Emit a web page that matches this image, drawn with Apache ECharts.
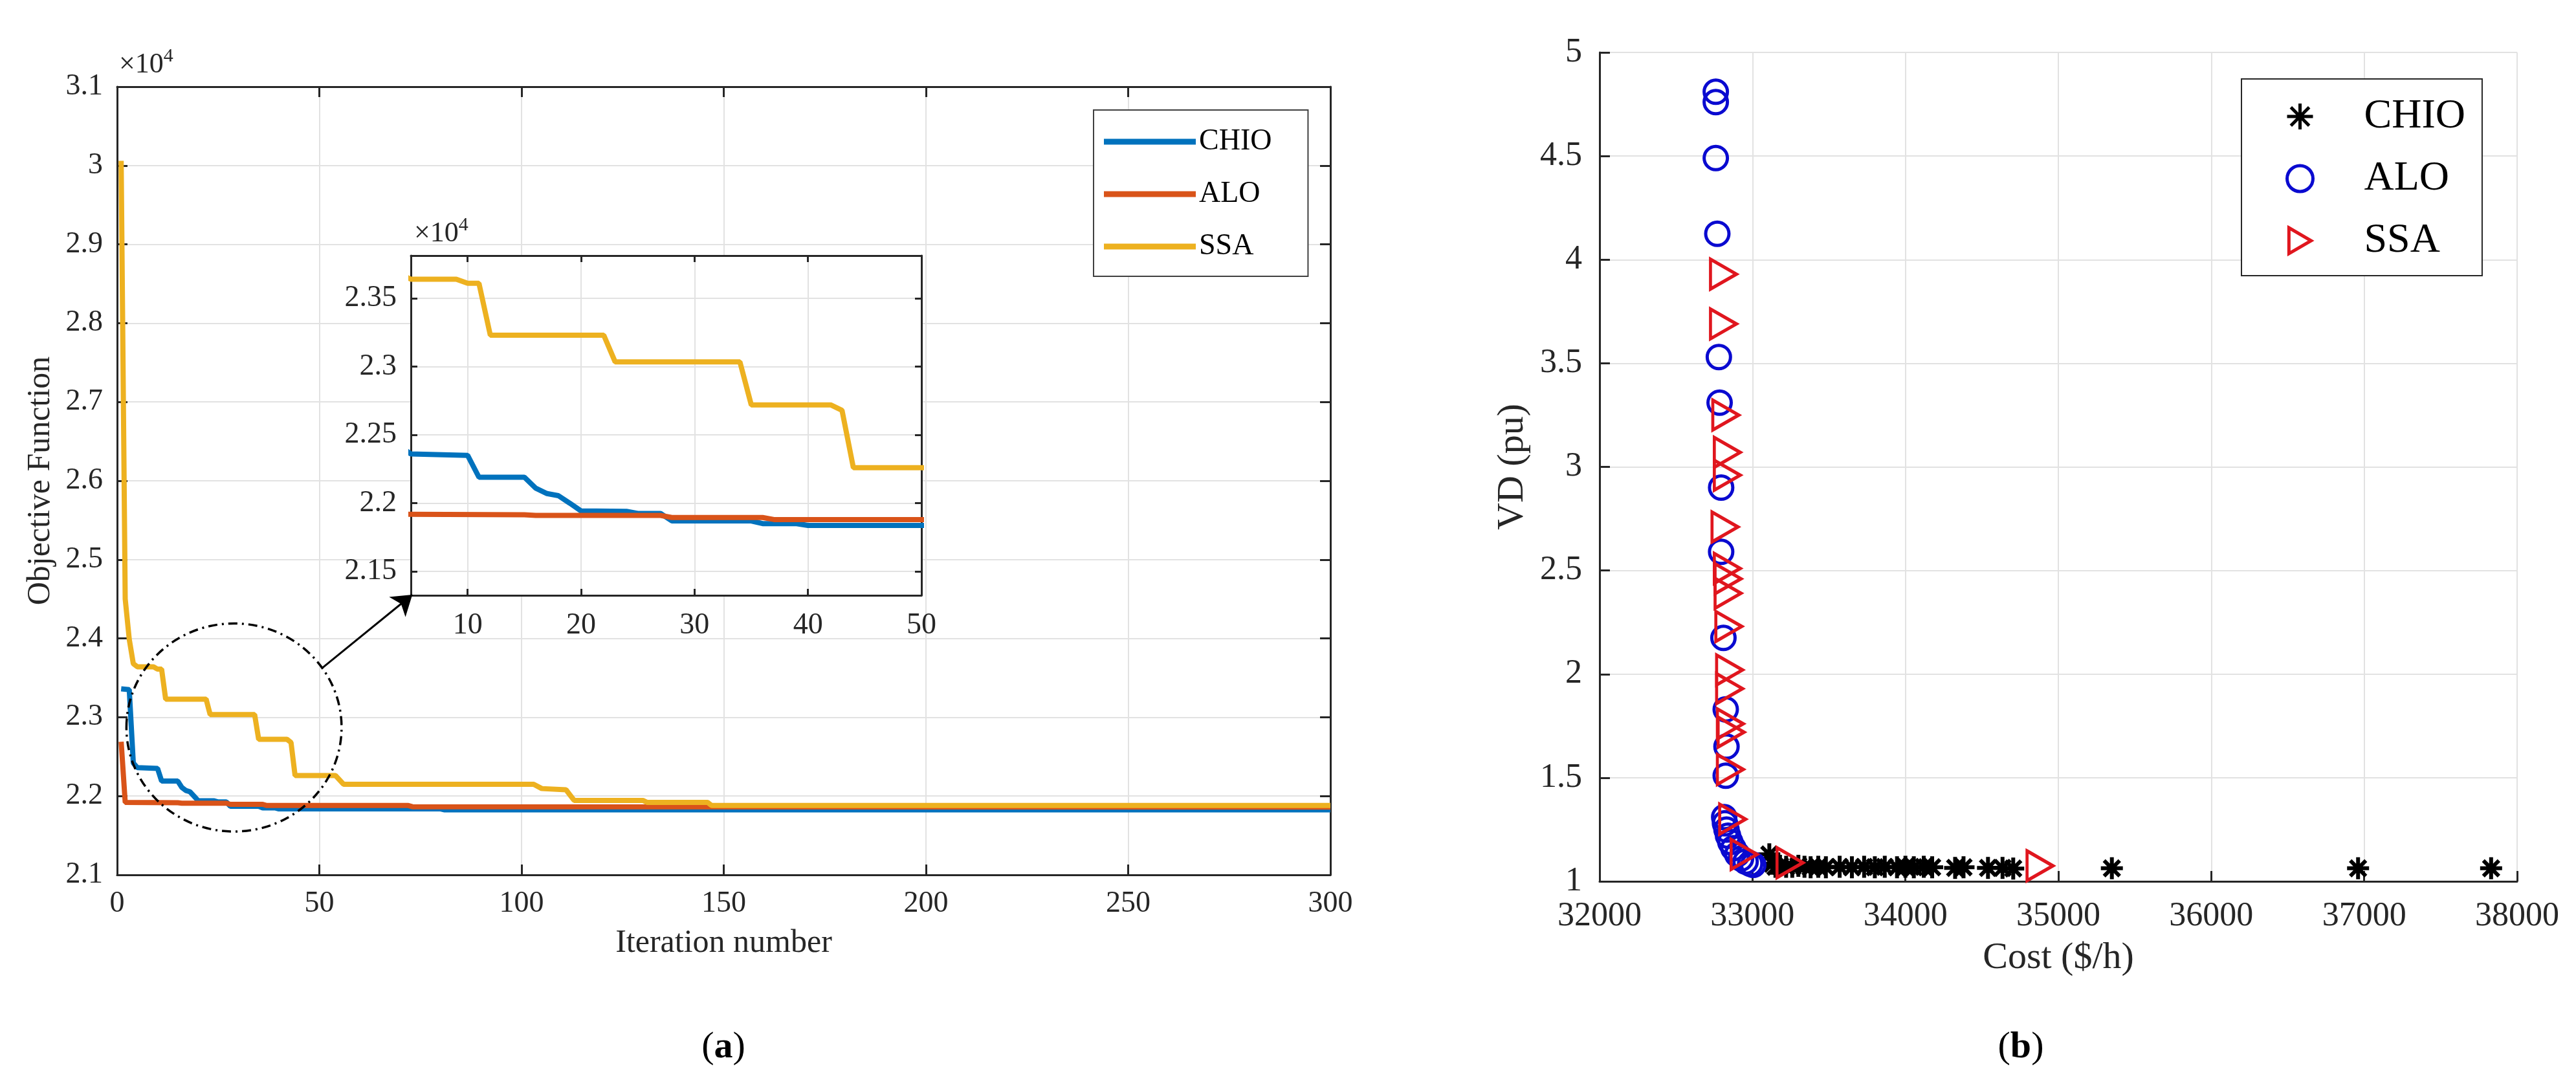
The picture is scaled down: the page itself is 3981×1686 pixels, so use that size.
<!DOCTYPE html>
<html>
<head>
<meta charset="utf-8">
<script src="https://cdn.jsdelivr.net/npm/echarts@6/dist/echarts.min.js"></script>
<style>
  html, body { margin: 0; padding: 0; background: #fff; }
  #wrap { position: relative; width: 3981px; height: 1686px; }
  #left { position: absolute; left: 0; top: 0; width: 2200px; height: 1686px; }
  #right { position: absolute; left: 2200px; top: 0; width: 1781px; height: 1686px; }
</style>
</head>
<body>
<div id="wrap"><div id="left"></div><div id="right"></div></div>
<script>
// (a) convergence curves: [iteration, objective function]
const chioCurve = [[1, 23360], [3, 23350], [4, 22420], [5, 22360], [10, 22350], [11, 22190], [15, 22190],
  [16, 22110], [17, 22070], [18, 22055], [19, 22000], [20, 21943], [24, 21940], [25, 21925], [27, 21925],
  [28, 21870], [35, 21870], [36, 21850], [39, 21850], [40, 21837], [80, 21837], [81, 21825], [300, 21825]];
const aloCurve = [[1, 22690], [2, 21920], [15, 21915], [16, 21910], [27, 21910], [28, 21895], [36, 21895],
  [37, 21880], [72, 21880], [73, 21865], [300, 21860]];
const ssaCurve = [[1, 30060], [2, 24500], [3, 23990], [4, 23680], [5, 23640], [9, 23640], [10, 23610],
  [11, 23610], [12, 23230], [22, 23230], [23, 23035], [34, 23035], [35, 22720], [42, 22720], [43, 22680],
  [44, 22260], [54, 22260], [56, 22150], [103, 22150], [105, 22095], [111, 22080], [113, 21945],
  [130, 21945], [131, 21920], [146, 21920], [147, 21880], [300, 21880]];

// (b) Pareto fronts: [cost ($/h), VD (pu)]
const chioFront = [[33110, 1.13], [33130, 1.085], [33150, 1.07], [33180, 1.075], [33220, 1.07], [33260, 1.07],
  [33300, 1.075], [33340, 1.07], [33380, 1.068], [33430, 1.07], [33480, 1.068], [33570, 1.07], [33650, 1.068],
  [33730, 1.07], [33800, 1.068], [33865, 1.07], [33945, 1.068], [34000, 1.07], [34055, 1.068], [34120, 1.07],
  [34175, 1.068], [34325, 1.065], [34380, 1.068], [34540, 1.065], [34635, 1.065], [34705, 1.062],
  [35350, 1.063], [36960, 1.063], [37830, 1.063]];
const aloFront = [[32760, 4.81], [32760, 4.76], [32760, 4.49], [32770, 4.125], [32780, 3.53], [32785, 3.31],
  [32795, 2.90], [32795, 2.59], [32810, 2.175], [32825, 1.83], [32830, 1.65], [32825, 1.51], [32815, 1.31],
  [32820, 1.28], [32830, 1.25], [32840, 1.22], [32855, 1.19], [32875, 1.16], [32900, 1.13], [32925, 1.11],
  [32955, 1.095], [32985, 1.085], [33005, 1.08]];
const ssaFront = [[32810, 3.93], [32810, 3.69], [32825, 3.25], [32835, 3.07], [32835, 2.96], [32820, 2.71],
  [32835, 2.51], [32840, 2.46], [32840, 2.39], [32845, 2.23], [32850, 2.02], [32850, 1.93], [32855, 1.76],
  [32860, 1.72], [32855, 1.54], [32870, 1.30], [32945, 1.13], [33245, 1.09], [34880, 1.075]];

const seriesNames = ['CHIO', 'ALO', 'SSA'];
const insetXTicks = [10, 20, 30, 40, 50];
const insetYTicks = [21500, 22000, 22500, 23000, 23500];

// zoomed region marked on (a), and the arrow pointing at the inset
const zoomIter = [2.3, 55.5];
const zoomObj = [21550, 24190];
const arrowFrom = [50.6, 23620];
const arrowTo = [73, 24555];

const FONT = 'Liberation Serif';
const AXIS = '#262626';
const GRIDC = '#e2e2e2';
const lineColors = ['#0072BD', '#D95319', '#EDB120'];

const e4 = (v) => String(+(v / 1e4).toFixed(4));

const axisCommon = (extra) => Object.assign({
  type: 'value',
  axisLine: { show: true, onZero: false, lineStyle: { color: AXIS, width: 3 } },
  axisTick: { show: true, inside: true, length: 16, lineStyle: { color: AXIS, width: 3 } },
  axisLabel: { fontFamily: FONT, fontSize: 46, color: AXIS, margin: 22 },
  splitLine: { show: true, lineStyle: { color: GRIDC, width: 2 } },
}, extra);

const boxSide = (extra) => Object.assign({
  type: 'value',
  axisLine: { show: true, onZero: false, lineStyle: { color: AXIS, width: 3 } },
  axisTick: { show: true, inside: true, length: 16, lineStyle: { color: AXIS, width: 3 } },
  axisLabel: { show: false },
  splitLine: { show: false },
}, extra);

const tenPow = {
  align: 'left', verticalAlign: 'bottom', fontFamily: FONT, fontSize: 44, color: AXIS, padding: [0, 0, 6, 0],
  rich: { s: { fontFamily: FONT, fontSize: 30, color: AXIS, verticalAlign: 'top', padding: [0, 0, 26, 0] } },
};

const curves = [chioCurve, aloCurve, ssaCurve];

const leftChart = echarts.init(document.getElementById('left'));
leftChart.setOption({
  animation: false,
  backgroundColor: '#fff',
  grid: [
    { left: 181, top: 134, width: 1875, height: 1218 },
    { left: 635, top: 395, width: 789, height: 525, show: true, backgroundColor: '#fff', borderWidth: 0, z: 1 },
  ],
  legend: {
    data: seriesNames,
    orient: 'vertical',
    left: 1690,
    top: 170,
    icon: 'path://M0,0H142V9H0Z',
    itemWidth: 142,
    itemHeight: 30,
    itemGap: 35,
    padding: [26, 56, 23, 16],
    borderColor: '#404040',
    borderWidth: 2,
    backgroundColor: '#fff',
    textStyle: { fontFamily: FONT, fontSize: 46, color: '#000' },
    z: 20,
  },
  xAxis: [
    axisCommon({
      gridIndex: 0, position: 'bottom', min: 0, max: 300, interval: 50,
      name: 'Iteration number', nameLocation: 'middle', nameGap: 81,
      nameTextStyle: { fontFamily: FONT, fontSize: 50, color: AXIS },
    }),
    boxSide({ gridIndex: 0, position: 'top', min: 0, max: 300, interval: 50 }),
    axisCommon({
      gridIndex: 1, position: 'bottom', min: 5, max: 50, z: 3,
      axisTick: { show: true, inside: true, length: 10, customValues: insetXTicks, lineStyle: { color: AXIS, width: 3 } },
      axisLabel: { fontFamily: FONT, fontSize: 46, color: AXIS, margin: 24, customValues: insetXTicks },
    }),
    boxSide({
      gridIndex: 1, position: 'top', min: 5, max: 50, z: 3,
      axisTick: { show: true, inside: true, length: 10, customValues: insetXTicks, lineStyle: { color: AXIS, width: 3 } },
    }),
  ],
  yAxis: [
    axisCommon({
      gridIndex: 0, position: 'left', min: 21000, max: 31000, interval: 1000,
      axisLabel: { fontFamily: FONT, fontSize: 46, color: AXIS, margin: 22, formatter: e4 },
      name: 'Objective Function', nameLocation: 'middle', nameGap: 93,
      nameTextStyle: { fontFamily: FONT, fontSize: 50, color: AXIS },
    }),
    boxSide({
      gridIndex: 0, position: 'right', min: 21000, max: 31000, interval: 1000,
    }),
    axisCommon({
      gridIndex: 1, position: 'left', min: 21325, max: 23813, z: 3,
      axisTick: { show: true, inside: true, length: 10, customValues: insetYTicks, lineStyle: { color: AXIS, width: 3 } },
      axisLabel: { fontFamily: FONT, fontSize: 46, color: AXIS, margin: 22, customValues: insetYTicks, formatter: e4 },
    }),
    boxSide({
      gridIndex: 1, position: 'right', min: 21325, max: 23813, z: 3,
      axisTick: { show: true, inside: true, length: 10, customValues: insetYTicks, lineStyle: { color: AXIS, width: 3 } },
    }),
  ],
  series: [
    ...curves.map((d, i) => ({
      name: seriesNames[i], type: 'line', data: d, xAxisIndex: 0, yAxisIndex: 0,
      symbol: 'none', lineStyle: { color: lineColors[i], width: 8 }, itemStyle: { color: lineColors[i] },
      z: 2,
      markLine: i === 2 ? {
        silent: true, symbol: ['none', 'arrow'], symbolSize: 30,
        lineStyle: { color: '#000', type: 'solid', width: 3 }, label: { show: false },
        data: [[{ coord: arrowFrom }, { coord: arrowTo }]],
      } : undefined,
    })),
    ...curves.map((d, i) => ({
      name: seriesNames[i], type: 'line', data: d, xAxisIndex: 2, yAxisIndex: 2,
      symbol: 'none', lineStyle: { color: lineColors[i], width: 8 }, itemStyle: { color: lineColors[i] },
      z: 4, clip: true,
    })),
  ],
});

// top-axis names carry the x10^4 multipliers
leftChart.setOption({
  xAxis: [
    {}, { name: '×10{s|4}', nameLocation: 'start', nameGap: -3, nameTextStyle: tenPow },
    {}, { name: '×10{s|4}', nameLocation: 'start', nameGap: -5, nameTextStyle: tenPow },
  ],
});

const toPx = (p) => leftChart.convertToPixel({ xAxisIndex: 0, yAxisIndex: 0 }, p);
const c0 = toPx([zoomIter[0], zoomObj[1]]);
const c1 = toPx([zoomIter[1], zoomObj[0]]);
leftChart.setOption({
  graphic: [
    {
      type: 'ellipse', z: 30,
      shape: { cx: (c0[0] + c1[0]) / 2, cy: (c0[1] + c1[1]) / 2, rx: (c1[0] - c0[0]) / 2, ry: (c1[1] - c0[1]) / 2 },
      style: { fill: 'none', stroke: '#000', lineWidth: 3.5, lineDash: [14, 7, 3, 7] },
    },
    {
      type: 'text', x: 1118, y: 1619, z: 30,
      style: {
        text: '({b|a})', align: 'center', verticalAlign: 'middle', fontFamily: FONT, fontSize: 58, fill: '#000',
        rich: { b: { fontFamily: FONT, fontSize: 58, fontWeight: 'bold', fill: '#000' } },
      },
    },
  ],
});

const rightChart = echarts.init(document.getElementById('right'));
rightChart.setOption({
  animation: false,
  backgroundColor: '#fff',
  grid: { left: 272, top: 81, width: 1418, height: 1281 },
  legend: {
    data: seriesNames,
    orient: 'vertical',
    left: 1264,
    top: 122,
    itemWidth: 188,
    itemHeight: 40,
    itemGap: 32,
    padding: [26, 26, 22, 68],
    borderColor: AXIS,
    borderWidth: 2,
    backgroundColor: '#fff',
    itemStyle: { borderWidth: 5 },
    textStyle: { fontFamily: FONT, fontSize: 64, color: '#000' },
    z: 20,
  },
  xAxis: axisCommon({
    min: 32000, max: 38000, interval: 1000,
    axisLabel: { fontFamily: FONT, fontSize: 52, color: AXIS, margin: 28, formatter: (v) => String(v) },
    name: 'Cost ($/h)', nameLocation: 'middle', nameGap: 90,
    nameTextStyle: { fontFamily: FONT, fontSize: 58, color: AXIS },
  }),
  yAxis: axisCommon({
    min: 1, max: 5, interval: 0.5,
    axisLabel: { fontFamily: FONT, fontSize: 52, color: AXIS, margin: 27 },
    name: 'VD (pu)', nameLocation: 'middle', nameGap: 105,
    nameTextStyle: { fontFamily: FONT, fontSize: 58, color: AXIS },
  }),
  series: [
    {
      name: 'CHIO', type: 'scatter', data: chioFront,
      symbol: 'path://M0,-10L0,10M-10,0L10,0M-7.1,-7.1L7.1,7.1M-7.1,7.1L7.1,-7.1',
      symbolSize: 34,
      itemStyle: { color: 'rgba(0,0,0,0)', borderColor: '#000', borderWidth: 6, opacity: 1 },
    },
    {
      name: 'ALO', type: 'scatter', data: aloFront, symbol: 'circle', symbolSize: 36,
      itemStyle: { color: 'rgba(0,0,0,0)', borderColor: '#0a0ad0', borderWidth: 5, opacity: 1 },
    },
    {
      name: 'SSA', type: 'scatter', data: ssaFront, symbol: 'path://M0,0L12,7L0,14Z', symbolSize: [40, 46],
      itemStyle: { color: 'rgba(0,0,0,0)', borderColor: '#e0161e', borderWidth: 5, opacity: 1 },
    },
  ],
  graphic: [
    {
      type: 'text', x: 923, y: 1619, z: 30,
      style: {
        text: '({b|b})', align: 'center', verticalAlign: 'middle', fontFamily: FONT, fontSize: 58, fill: '#000',
        rich: { b: { fontFamily: FONT, fontSize: 58, fontWeight: 'bold', fill: '#000' } },
      },
    },
  ],
});
</script>
</body>
</html>
